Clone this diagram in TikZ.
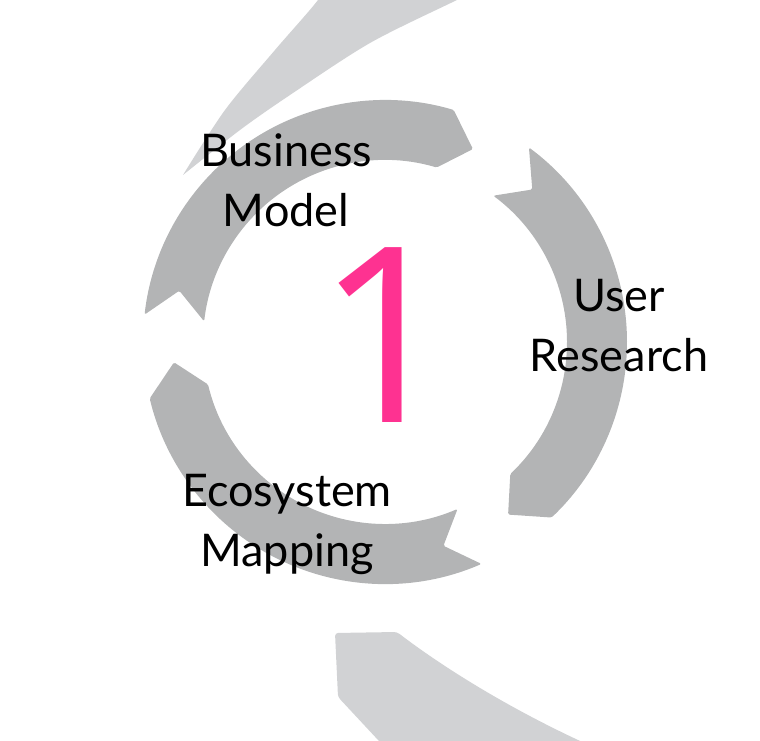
\documentclass[tikz,border=0pt]{standalone}
\usepackage{fontspec}
\setmainfont{Lato}
\newfontfamily\digitfont{Open Sans}
\definecolor{arrowgray}{RGB}{179,180,181}
\definecolor{swooshgray}{RGB}{209,210,212}
\definecolor{onepink}{RGB}{254,50,145}

\begin{document}
\begin{tikzpicture}[x=1pt,y=1pt,
    steplabel/.style={align=center,font=\fontsize{45}{60}\selectfont,inner sep=0pt}]
\useasboundingbox (0,0) rectangle (760,740);
\clip (0,0) rectangle (760,740);
% light swooshes behind the cycle
\fill[swooshgray] plot[smooth] coordinates {(340,775) (318,740) (275,690) (225,630) (183,565)}
    -- plot[smooth] coordinates {(183,565) (240,610) (290,645) (370,697) (457,740) (520,770)} -- cycle;
\fill[swooshgray,rounded corners=3pt] (392,-15) -- (338,43) -- (335,107) -- (397,108)
    .. controls (440,75) and (510,30) .. (600,-10) -- cycle;
% the three cycle arrows
\begin{scope}[shift={(385,398)}]
  \foreach \t in {173.5,53.5,-66.5}
    \fill[arrowgray,rounded corners=1.5pt] (\t:242) arc[start angle=\t, end angle=\t-100, radius=242]
      -- (\t-108:212) -- (\t-100:182) arc[start angle=\t-100, end angle=\t, radius=182]
      -- (\t-7.5:212) -- cycle;
\end{scope}
\node[steplabel] (business) at (286,560) {Business\\Model};
\node[steplabel] (user) at (619,414) {User\\Research};
\node[steplabel] (ecosystem) at (287,216) {Ecosystem\\Mapping};
\node[text=onepink,font=\digitfont\fontsize{245}{245}\selectfont,inner sep=0pt] (one) at (387,405) {1};
\end{tikzpicture}
\end{document}
